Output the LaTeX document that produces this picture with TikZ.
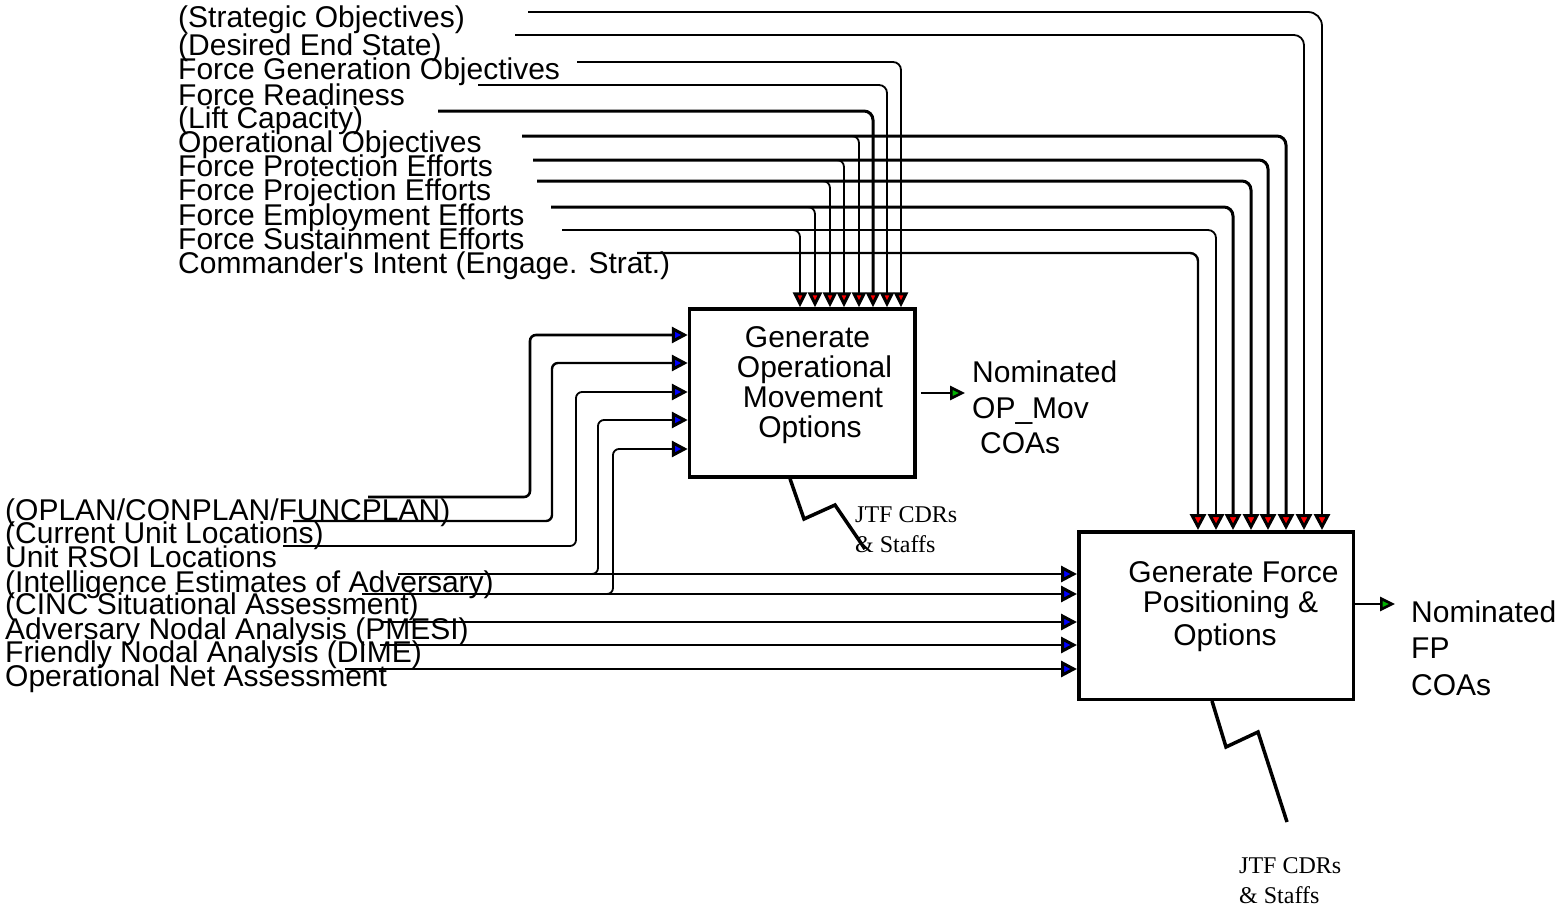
\documentclass[tikz,border=0pt]{standalone}
\usepackage{fontspec}
\setmainfont{Liberation Sans}
\newfontfamily\jtffont{Liberation Serif}
\usetikzlibrary{arrows.meta}
\begin{document}
\begin{tikzpicture}[x=1pt,y=-1pt,
  lbl/.style={anchor=base west,inner sep=0pt,font=\fontsize{30}{30}\selectfont},
  btxt/.style={anchor=base,inner sep=0pt,font=\fontsize{30}{30}\selectfont},
  jtf/.style={anchor=base west,inner sep=0pt,font=\jtffont\fontsize{24}{24}\selectfont},
  box/.style={draw,line width=3.5pt,inner sep=0pt},
  wire/.style={line width=1.8pt,rounded corners=8pt},
  heavy/.style={line width=3pt,rounded corners=9pt},
  ctla/.style={-{Triangle[width=14pt,length=15pt,fill=red,line width=3pt]}},
  ctlb/.style={-{Triangle[width=16pt,length=16pt,fill=red,line width=3pt]}},
  inp/.style={-{Triangle[width=16pt,length=16pt,fill=blue,line width=3pt]}},
  outp/.style={-{Triangle[width=14pt,length=15pt,fill=green!70!black,line width=2.6pt]}},
  mech/.style={line width=3.5pt,line join=miter}
]
\fill[white] (0,0) rectangle (1555,907);
\useasboundingbox (0,0) rectangle (1555,907);

% boxes
\node[box,minimum width=225.5pt,minimum height=168pt] (b1) at (802.25,393) {};
\node[box,minimum width=274.5pt,minimum height=167.5pt] (b2) at (1216,615.5) {};

\node[btxt] (t1a) at (807.5,347) {Generate};
\node[btxt] (t1b) at (814.5,377) {Operational};
\node[btxt] (t1c) at (813,407) {Movement};
\node[btxt] (t1d) at (810,437) {Options};

\node[btxt] (t2a) at (1233.5,582) {Generate Force};
\node[btxt] (t2b) at (1230.5,612) {Positioning \&};
\node[btxt] (t2c) at (1225,645) {Options};

% top labels
\node[lbl] (lStrat) at (178,28) {(Strategic Objectives)};
\node[lbl] (lDes)   at (178,56) {(Desired End State)};
\node[lbl] (lFgo)   at (178,80) {Force Generation Objectives};
\node[lbl] (lRdy)   at (178,105) {Force Readiness};
\node[lbl] (lLift)  at (178,128) {(Lift Capacity)};
\node[lbl] (lOpo)   at (178,152) {Operational Objectives};
\node[lbl] (lProt)  at (178,176) {Force Protection Efforts};
\node[lbl] (lProj)  at (178,200) {Force Projection Efforts};
\node[lbl] (lEmp)   at (178,225) {Force Employment Efforts};
\node[lbl] (lSus)   at (178,249) {Force Sustainment Efforts};
\node[lbl] (lCi)    at (178,273) {Commander\textquotesingle s Intent (Engage. Strat.)};

% bottom-left labels
\node[lbl] (lOplan) at (5,520) {(OPLAN/CONPLAN/FUNCPLAN)};
\node[lbl] (lCur)   at (5,543) {(Current Unit Locations)};
\node[lbl] (lRsoi)  at (5,567) {Unit RSOI Locations};
\node[lbl] (lInt)   at (5,592) {(Intelligence Estimates of Adversary)};
\node[lbl] (lCinc)  at (5,614) {(CINC Situational Assessment)};
\node[lbl] (lAdv)   at (5,639) {Adversary Nodal Analysis (PMESI)};
\node[lbl] (lFri)   at (5,662) {Friendly Nodal Analysis (DIME)};
\node[lbl] (lNet)   at (5,686) {Operational Net Assessment};

% outputs
\node[lbl] (o1a) at (972,382) {Nominated};
\node[lbl] (o1b) at (972,418) {OP\_Mov};
\node[lbl] (o1c) at (980,453) {COAs};
\node[lbl] (o2a) at (1411,622) {Nominated};
\node[lbl] (o2b) at (1411,658) {FP};
\node[lbl] (o2c) at (1411,695) {COAs};

% mechanism labels
\node[jtf] (j1a) at (855,522) {JTF CDRs};
\node[jtf] (j1b) at (855,552) {\& Staffs};
\node[jtf] (j2a) at (1239,873) {JTF CDRs};
\node[jtf] (j2b) at (1239,903) {\& Staffs};

% connector start coordinates (top)
\coordinate (sStrat) at (528,12);
\coordinate (sDes)   at (515,35);
\coordinate (sFgo)   at (577,62);
\coordinate (sRdy)   at (478,85);
\coordinate (sLift)  at (438,111);
\coordinate (sOpo)   at (522,136);
\coordinate (sProt)  at (533,160);
\coordinate (sProj)  at (537,181);
\coordinate (sEmp)   at (551,207);
\coordinate (sSus)   at (562,230);
\coordinate (sCi)    at (637,253);

% top connectors to box 2
\draw[wire,rounded corners=14pt,ctlb] (sStrat) -| (1322,0 |- b2.north);
\draw[wire,rounded corners=10pt,ctlb] (sDes) -| (1304,0 |- b2.north);
\draw[heavy,ctlb] (sOpo) -| (1286,0 |- b2.north);
\draw[heavy,ctlb] (sProt) -| (1268,0 |- b2.north);
\draw[heavy,ctlb] (sProj) -| (1251,0 |- b2.north);
\draw[heavy,ctlb] (sEmp) -| (1233,0 |- b2.north);
\draw[wire,ctlb] (sSus) -| (1216,0 |- b2.north);
\draw[wire,line width=2.4pt,ctlb] (sCi) -| (1198,0 |- b2.north);

% top connectors to box 1
\draw[wire,ctla] (sFgo) -| (901,0 |- b1.north);
\draw[wire,ctla] (sRdy) -| (887,0 |- b1.north);
\draw[heavy,ctla] (sLift) -| (873,0 |- b1.north);
\coordinate (jOpo)  at (850,136);
\coordinate (jProt) at (835,160);
\coordinate (jProj) at (821,181);
\coordinate (jEmp)  at (806,207);
\coordinate (jSus)  at (791,230);
\draw[wire,rounded corners=7pt,ctla] (jOpo) -| (859,0 |- b1.north);
\draw[wire,rounded corners=7pt,ctla] (jProt) -| (844,0 |- b1.north);
\draw[wire,rounded corners=7pt,ctla] (jProj) -| (830,0 |- b1.north);
\draw[wire,rounded corners=7pt,ctla] (jEmp) -| (815,0 |- b1.north);
\draw[wire,rounded corners=7pt,ctla] (jSus) -| (800,0 |- b1.north);

% left inputs
\coordinate (sOplan) at (368,497);
\coordinate (sCur)   at (293,521);
\coordinate (sRsoi)  at (283,546);
\coordinate (sInt)   at (398,574);
\coordinate (sCinc)  at (362,594);
\coordinate (sAdv)   at (382,622);
\coordinate (sFri)   at (380,645);
\coordinate (sNet)   at (345,669);

\draw[wire,line width=2.6pt,rounded corners=6pt,inp] (sOplan) -- (530,497) -- (530,335) -- (b1.west |- 0,335);
\draw[wire,line width=2.4pt,rounded corners=6pt,inp] (sCur) -- (552,521) -- (552,363) -- (b1.west |- 0,363);
\draw[wire,rounded corners=6pt,inp] (sRsoi) -- (576,546) -- (576,392) -- (b1.west |- 0,392);
\coordinate (jInt)  at (590,574);
\coordinate (jCinc) at (605,594);
\draw[wire,rounded corners=6pt,inp] (jInt) -- (598,574) -- (598,420) -- (b1.west |- 0,420);
\draw[wire,rounded corners=6pt,inp] (jCinc) -- (613,594) -- (613,449) -- (b1.west |- 0,449);

\draw[wire,inp] (sInt)  -- (b2.west |- 0,574);
\draw[wire,inp] (sCinc) -- (b2.west |- 0,594);
\draw[wire,inp] (sAdv)  -- (b2.west |- 0,622);
\draw[wire,inp] (sFri)  -- (b2.west |- 0,645);
\draw[wire,inp] (sNet)  -- (b2.west |- 0,669);

% outputs
\draw[wire,outp] ([xshift=4pt]b1.east |- 0,393) -- ([xshift=-7pt]o1a.west |- 0,393);
\draw[wire,outp] ([xshift=-3pt]b2.east |- 0,604) -- ([xshift=-16pt]o2a.west |- 0,604);

% mechanisms
\draw[mech] (790,0 |- b1.south) -- (804,519) -- (835,505) -- (865,549) coordinate (m1);
\draw[mech] (1212,0 |- b2.south) -- (1226,747) -- (1258,732) -- (1287,822) coordinate (m2);
\end{tikzpicture}
\end{document}
